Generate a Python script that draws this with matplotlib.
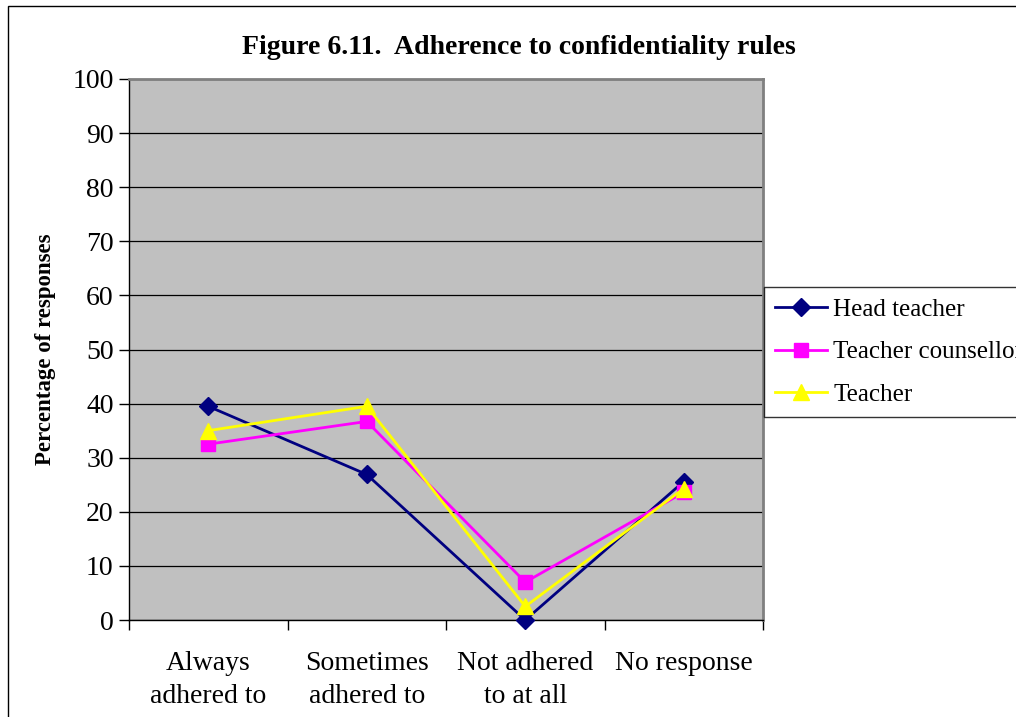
import matplotlib
matplotlib.use("Agg")
import matplotlib.pyplot as plt
from matplotlib.patches import Rectangle

categories = ["Always\nadhered to", "Sometimes\nadhered to", "Not adhered\nto at all", "No response"]
head_teacher = [39.5, 26.9, 0.0, 25.6]
teacher_counsellor = [32.5, 36.7, 7.0, 23.6]
teacher = [35.0, 39.5, 2.5, 24.3]
yticks = list(range(0, 101, 10))

plt.rcParams["font.family"] = ["Liberation Serif", "DejaVu Serif"]

fig = plt.figure(figsize=(10.16, 7.17), dpi=100)
W, H = 1016, 717

# outer chart frame (runs off the right and bottom edges)
fig.patches.append(Rectangle((8 / W, -0.1), 1.2, 1 - 6 / H + 0.1,
                             transform=fig.transFigure, fill=False,
                             edgecolor="black", linewidth=1.0))

ax = fig.add_axes([129 / W, 1 - 620 / H, (763 - 129) / W, (620 - 79) / H])
ax.set_facecolor("#c0c0c0")

x = list(range(len(categories)))
ax.plot(x, head_teacher, color="#000080", lw=2, marker="D", ms=9.5,
        mfc="#000080", mec="#000080", label="Head teacher", clip_on=False, zorder=3)
ax.plot(x, teacher_counsellor, color="#ff00ff", lw=2, marker="s", ms=10,
        mfc="#ff00ff", mec="#ff00ff", label="Teacher counsellor", clip_on=False, zorder=4)
ax.plot(x, teacher, color="#ffff00", lw=2, marker="^", ms=11,
        mfc="#ffff00", mec="#ffff00", label="Teacher", clip_on=False, zorder=5)

ax.set_xlim(-0.5, len(categories) - 0.5)
ax.set_ylim(0, 100)
ax.set_yticks(yticks)
ax.set_yticklabels([str(v) for v in yticks], fontsize=20)
ax.yaxis.grid(True, color="black", lw=0.9)
ax.set_axisbelow(True)

ax.set_xticks([i - 0.5 for i in range(len(categories) + 1)])
ax.set_xticklabels([])
ax.set_xticks(x, minor=True)
ax.set_xticklabels(categories, minor=True, fontsize=20, linespacing=1.45)
ax.tick_params(axis="x", which="minor", length=0, pad=22)
ax.tick_params(axis="both", which="major", direction="out", length=7,
               width=1, color="black")
ax.tick_params(axis="y", pad=4)

for s in ("left", "bottom"):
    ax.spines[s].set_color("black")
    ax.spines[s].set_linewidth(1.0)
for s in ("top", "right"):
    ax.spines[s].set_color("#808080")
    ax.spines[s].set_linewidth(2.0)

ax.set_ylabel("Percentage of responses", fontsize=16.5, fontweight="bold", labelpad=12)

fig.text(519 / W, 1 - 47 / H, "Figure 6.11.  Adherence to confidentiality rules",
         ha="center", va="center", fontsize=20, fontweight="bold")

leg = fig.legend(loc="upper left", bbox_to_anchor=(764 / W, 1 - 287 / H),
                 fontsize=18, frameon=True, fancybox=False, edgecolor="black",
                 borderpad=0.45, labelspacing=0.8, handlelength=2.08,
                 handletextpad=0.24, borderaxespad=0)
leg.get_frame().set_linewidth(1.0)

fig.savefig("out.png", dpi=100)
